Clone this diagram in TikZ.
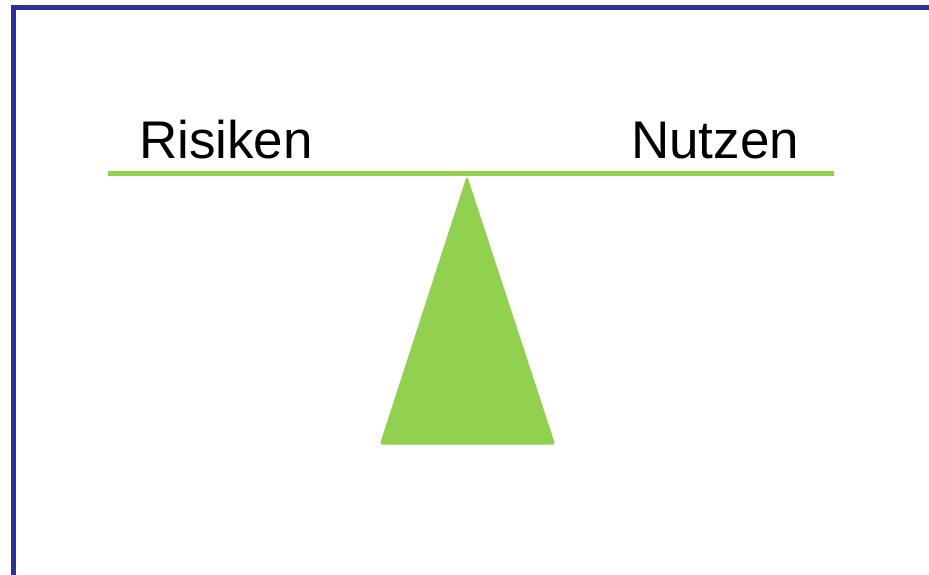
\documentclass[tikz,border=0pt]{standalone}
\usepackage{fontspec}
\setmainfont{Liberation Sans}
\definecolor{frameblue}{RGB}{46,49,146}
\definecolor{scalegreen}{RGB}{146,208,80}
\begin{document}
\begin{tikzpicture}[x=1pt,y=-1pt,
  frameline/.style={draw=frameblue,line width=5pt},
  beam/.style={draw=scalegreen,line width=5pt},
  fulcrum/.style={fill=scalegreen,draw=scalegreen,line width=1pt,rounded corners=1.5pt},
  label/.style={font=\fontsize{53}{63}\selectfont,inner sep=0pt,anchor=base west}]
\useasboundingbox (0,0) rectangle (929,575);
\fill[white] (0,0) rectangle (929,575);
\draw[frameline] (13.5,580) -- (13.5,7.5) -- (935,7.5);
\coordinate (bl) at (108,173.5);
\coordinate (br) at (834,173.5);
\draw[beam] (bl) -- (br);
\coordinate (apex) at (467,177);
\coordinate (baseL) at (380.5,444);
\coordinate (baseR) at (554.5,444);
\path[fulcrum] (apex) -- (baseR) -- (baseL) -- cycle;
\node[label] (risiken) at (139,159) {Risiken};
\node[label] (nutzen) at (631,159) {Nutzen};
\end{tikzpicture}
\end{document}
